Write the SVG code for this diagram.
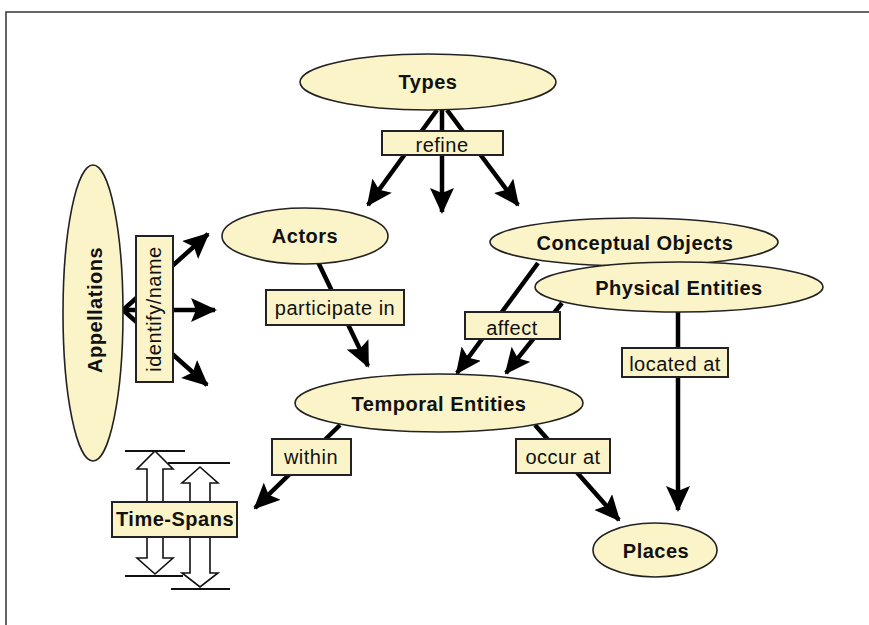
<svg xmlns="http://www.w3.org/2000/svg" width="869" height="625" viewBox="0 0 869 625">
<defs>
<marker id="ah" markerUnits="userSpaceOnUse" markerWidth="26" markerHeight="24" viewBox="0 0 26 24" refX="24" refY="12" orient="auto">
<path d="M0,0 L26,12 L0,24 L5,12 Z" fill="#000"/>
</marker>
</defs>
<style>
.node{fill:#FBF4C8;stroke:#222;stroke-width:1.6}
.lbl{fill:#FBF4C8;stroke:#222;stroke-width:2}
.b{font-family:"Liberation Sans",Arial,sans-serif;font-weight:bold;font-size:20px;letter-spacing:0.5px;fill:#111;text-anchor:middle}
.r{font-family:"Liberation Sans",Arial,sans-serif;font-size:20px;letter-spacing:0.5px;fill:#111;text-anchor:middle}
.c{fill:none;stroke:#000;stroke-width:4.5;marker-end:url(#ah)}
.ts{fill:#fff;stroke:#111;stroke-width:1.6}
.tl{stroke:#111;stroke-width:2}
</style>
<rect width="869" height="625" fill="#fff"/>
<path d="M6,625 L6,12 L869,12" fill="none" stroke="#333" stroke-width="1.5"/>

<g id="connectors">
<line class="c" x1="437" y1="110" x2="368" y2="205"/>
<line class="c" x1="442" y1="110" x2="442" y2="212"/>
<line class="c" x1="447" y1="110" x2="518" y2="205"/>
<line class="c" x1="123" y1="310" x2="208" y2="234"/>
<line class="c" x1="123" y1="310" x2="215" y2="310"/>
<line class="c" x1="123" y1="310" x2="207" y2="385"/>
<line class="c" x1="318" y1="262" x2="368" y2="366"/>
<line class="c" x1="538" y1="263" x2="457" y2="373"/>
<line class="c" x1="562" y1="303" x2="506" y2="373"/>
<line class="c" x1="678" y1="311" x2="678" y2="510"/>
<line class="c" x1="340" y1="425" x2="255" y2="508"/>
<line class="c" x1="535" y1="425" x2="619" y2="520"/>
</g>

<g id="types">
<ellipse class="node" cx="428" cy="82" rx="128" ry="28"/>
<text class="b" x="428" y="89">Types</text>
</g>
<g id="refine">
<rect class="lbl" x="382" y="131" width="121" height="24"/>
<text class="r" x="442" y="152">refine</text>
</g>

<g id="appellations">
<ellipse class="node" cx="93" cy="313" rx="30" ry="148"/>
<text class="b" transform="translate(102,310) rotate(-90)">Appellations</text>
</g>
<g id="identify-name">
<rect class="lbl" x="136" y="236" width="37" height="146"/>
<text class="r" transform="translate(161,309) rotate(-90)">identify/name</text>
</g>

<g id="actors">
<ellipse class="node" cx="305" cy="236" rx="83" ry="28"/>
<text class="b" x="305" y="243">Actors</text>
</g>
<g id="participate-in">
<rect class="lbl" x="266" y="290" width="138" height="35"/>
<text class="r" x="335" y="315">participate in</text>
</g>

<g id="conceptual-objects">
<ellipse class="node" cx="634" cy="242" rx="144" ry="24"/>
<text class="b" x="635" y="250">Conceptual Objects</text>
</g>
<g id="physical-entities">
<ellipse class="node" cx="679" cy="287" rx="144" ry="25"/>
<text class="b" x="679" y="295">Physical Entities</text>
</g>
<g id="affect">
<rect class="lbl" x="465" y="312" width="95" height="27"/>
<text class="r" x="512" y="335">affect</text>
</g>
<g id="located-at">
<rect class="lbl" x="622" y="348" width="106" height="29"/>
<text class="r" x="675" y="371">located at</text>
</g>

<g id="temporal-entities">
<ellipse class="node" cx="439" cy="403" rx="144" ry="29"/>
<text class="b" x="439" y="411">Temporal Entities</text>
</g>
<g id="within">
<rect class="lbl" x="272" y="439" width="79" height="36"/>
<text class="r" x="311" y="464">within</text>
</g>
<g id="occur-at">
<rect class="lbl" x="516" y="439" width="94" height="34"/>
<text class="r" x="563" y="464">occur at</text>
</g>

<g id="places">
<ellipse class="node" cx="655" cy="550" rx="62" ry="27"/>
<text class="b" x="656" y="558">Places</text>
</g>

<g id="time-spans">
<line class="tl" x1="125" y1="451" x2="185" y2="451"/>
<line class="tl" x1="168" y1="463" x2="230" y2="463"/>
<line class="tl" x1="125" y1="576" x2="183" y2="576"/>
<line class="tl" x1="171" y1="589" x2="230" y2="589"/>
<path class="ts" d="M155,451 L173,469 L163,469 L163,558 L173,558 L155,574 L137,558 L147,558 L147,469 L137,469 Z"/>
<path class="ts" d="M200,467 L218,483 L210,483 L210,573 L218,573 L200,587 L182,573 L190,573 L190,483 L182,483 Z"/>
<rect class="lbl" x="112" y="502" width="125" height="35"/>
<text class="b" x="175" y="526">Time-Spans</text>
</g>
</svg>
